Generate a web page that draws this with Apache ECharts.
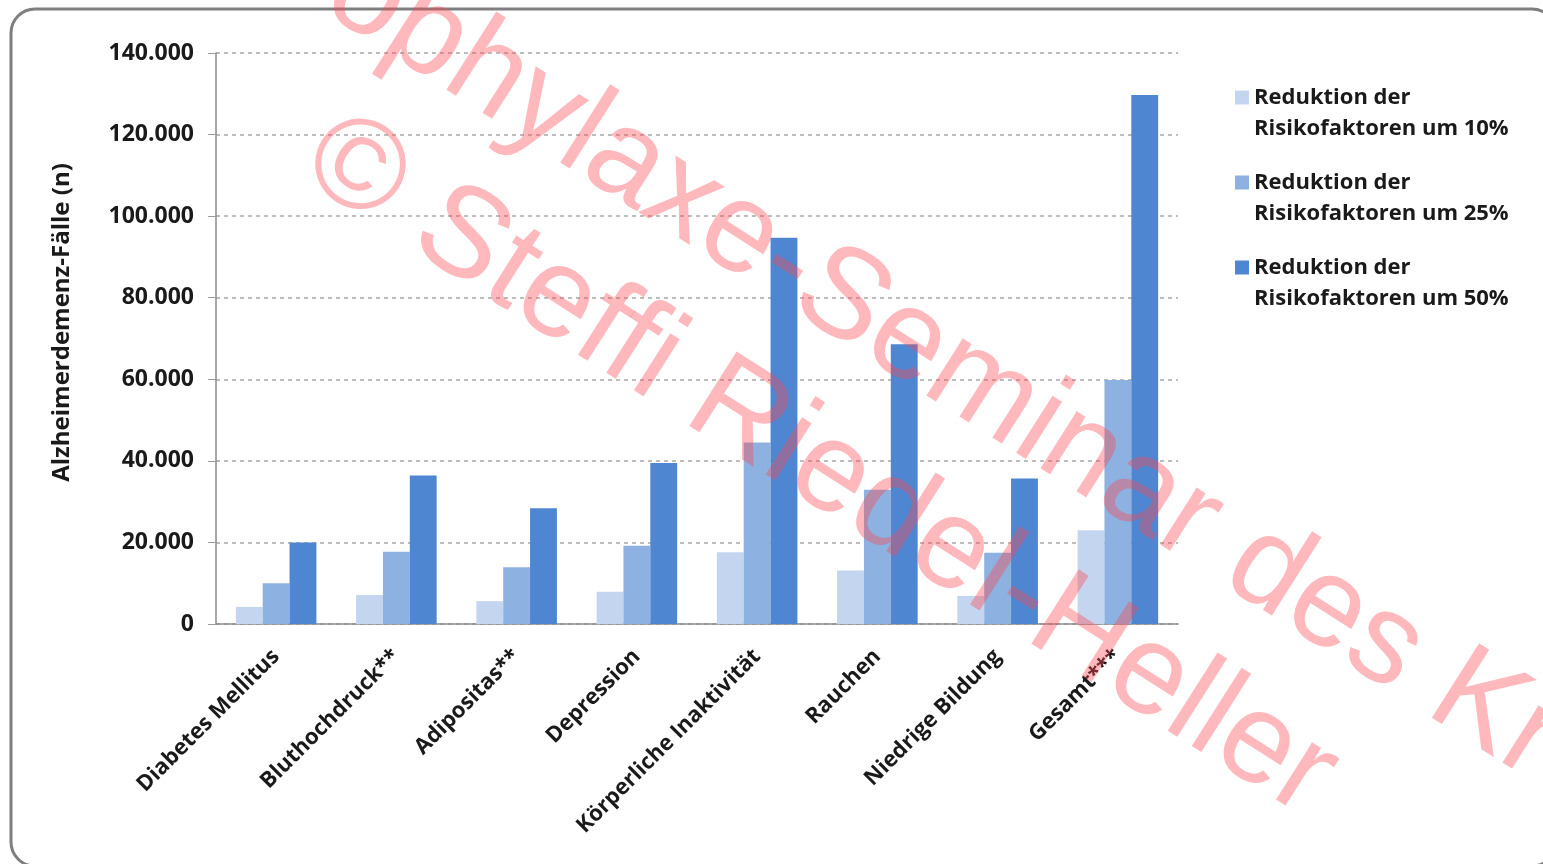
<!DOCTYPE html>
<html>
<head>
<meta charset="utf-8">
<script src="https://cdn.jsdelivr.net/npm/echarts@6/dist/echarts.min.js"></script>
<style>
html,body{margin:0;padding:0;background:#fff;}
#main{width:1543px;height:864px;}
</style>
</head>
<body>
<div id="main"></div>
<script>
// Kategorien und Werte
var categories = ['Diabetes Mellitus', 'Bluthochdruck**', 'Adipositas**', 'Depression',
    'Körperliche Inaktivität', 'Rauchen', 'Niedrige Bildung', 'Gesamt***'];
var seriesNames = ['Reduktion der\nRisikofaktoren um 10%', 'Reduktion der\nRisikofaktoren um 25%', 'Reduktion der\nRisikofaktoren um 50%'];
var red10 = [4200, 7100, 5600, 7900, 17600, 13100, 6900, 23000];
var red25 = [10000, 17700, 13900, 19200, 44500, 32900, 17500, 59800];
var red50 = [20000, 36400, 28400, 39500, 94700, 68600, 35700, 129700];
var yTicks = [0, 20000, 40000, 60000, 80000, 100000, 120000, 140000];

var colors = ['#c4d6ef', '#8db1e1', '#4e86d2'];
var font = '"Open Sans", "DejaVu Sans", sans-serif';
var wmFont = '128px "Liberation Sans", Arial, sans-serif';
var wmColor = 'rgba(255,70,80,0.38)';
var wmAngle = -32.5 * Math.PI / 180;

var myChart = echarts.init(document.getElementById('main'));

function fmt(v){
    return String(v).replace(/\B(?=(\d{3})+(?!\d))/g, '.');
}

var option = {
    backgroundColor: '#fff',
    animation: false,
    color: colors,
    grid: {
        left: 216,
        right: 365,
        top: 53,
        bottom: 240
    },
    legend: {
        orient: 'vertical',
        left: 1235,
        top: 51,
        padding: 0,
        icon: 'rect',
        itemWidth: 14,
        itemHeight: 14,
        itemGap: -8,
        // leere erste Zeile, damit das Symbol auf Höhe der ersten Textzeile sitzt
        formatter: function(name){ return ' \n' + name; },
        textStyle: {
            fontFamily: font,
            fontWeight: 'bold',
            fontSize: 22,
            color: '#1a1a1a',
            lineHeight: 31
        },
        data: seriesNames
    },
    xAxis: {
        type: 'category',
        data: categories,
        axisLine: {lineStyle: {color: '#8c8c8c', width: 1.5}},
        axisTick: {length: 6, lineStyle: {color: '#8c8c8c'}},
        axisLabel: {
            interval: 0,
            rotate: 45,
            margin: 29,
            fontFamily: font,
            fontWeight: 'bold',
            fontSize: 22,
            color: '#1a1a1a'
        }
    },
    yAxis: {
        type: 'value',
        min: yTicks[0],
        max: yTicks[yTicks.length - 1],
        interval: yTicks[1] - yTicks[0],
        name: 'Alzheimerdemenz-Fälle (n)',
        nameLocation: 'middle',
        nameGap: 142,
        nameTextStyle: {
            fontFamily: font,
            fontWeight: 'bold',
            fontSize: 24,
            color: '#1a1a1a',
            padding: [0, 0, 0, 32]
        },
        axisLine: {show: true, lineStyle: {color: '#8c8c8c', width: 1.5}},
        axisTick: {show: true, length: 8, lineStyle: {color: '#9a9a9a'}},
        splitLine: {lineStyle: {color: '#a8a8a8', type: [4, 4], width: 1.5}},
        axisLabel: {
            margin: 22,
            fontFamily: font,
            fontWeight: 'bold',
            fontSize: 23,
            color: '#1a1a1a',
            formatter: fmt
        }
    },
    series: [
        {name: seriesNames[0], type: 'bar', data: red10, barGap: '0%', barCategoryGap: '33%'},
        {name: seriesNames[1], type: 'bar', data: red25, barGap: '0%', barCategoryGap: '33%'},
        {name: seriesNames[2], type: 'bar', data: red50, barGap: '0%', barCategoryGap: '33%'}
    ],
    graphic: [
        {
            type: 'rect',
            z: 0,
            shape: {x: 11, y: 9, width: 1545, height: 857, r: 24},
            style: {fill: 'none', stroke: '#7f7f7f', lineWidth: 3}
        },
        {
            type: 'text',
            z: 100,
            x: 230,
            y: -90,
            rotation: wmAngle,
            style: {
                text: 'Prophylaxe-Seminar des Kr',
                font: wmFont,
                fill: wmColor,
                align: 'left',
                verticalAlign: 'middle'
            }
        },
        {
            type: 'text',
            z: 100,
            x: 316,
            y: 146,
            rotation: wmAngle,
            style: {
                text: '© Steffi Riedel-Heller',
                font: wmFont,
                fill: wmColor,
                align: 'left',
                verticalAlign: 'middle'
            }
        }
    ]
};

myChart.setOption(option);
</script>
</body>
</html>
